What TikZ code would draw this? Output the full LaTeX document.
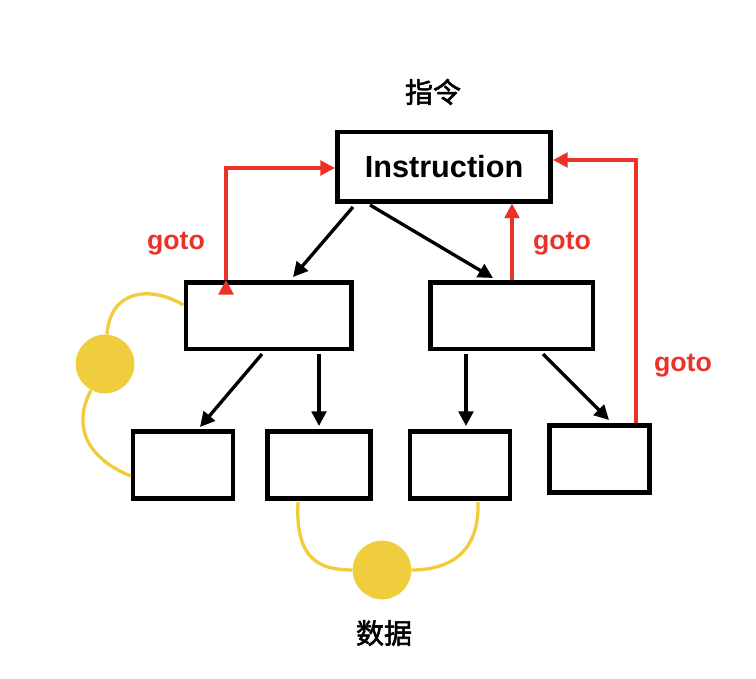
\documentclass[tikz,border=0pt]{standalone}
\usepackage{fontspec}
\setmainfont{Liberation Sans}
\newfontfamily\cjk[AutoFakeBold=2]{Noto Sans CJK SC}
\usetikzlibrary{arrows.meta}
\definecolor{gred}{RGB}{235,50,40}
\definecolor{gyel}{RGB}{240,205,60}
\tikzset{
 box/.style={draw,line width=3.5pt,inner sep=0pt},
 blk/.style={line width=2.5pt,-{Triangle[length=11pt,width=11pt]}},
 red/.style={draw=gred,line width=2.5pt,-{Triangle[length=11pt,width=11pt]}},
 lbl/.style={text=gred,font=\bfseries\fontsize{20}{22}\selectfont},
 yl/.style={draw=gyel,line width=2.5pt},
 dot/.style={circle,fill=gyel,minimum size=44pt,inner sep=0pt}
}
\begin{document}
\begin{tikzpicture}[x=0.75pt,y=-0.75pt]
\useasboundingbox (0,0) rectangle (756,678);
\node[font=\cjk\bfseries\fontsize{21}{24}\selectfont] (t1) at (433,92) {指令};
\node[font=\cjk\bfseries\fontsize{21}{24}\selectfont] (t2) at (384,633) {数据};
\node[box,minimum width=160pt,minimum height=52pt,font=\bfseries\fontsize{23}{26}\selectfont] (I) at (444,166.5) {Instruction};
\node[box,minimum width=124pt,minimum height=50pt] (L) at (268.5,315.5) {};
\node[box,minimum width=122pt,minimum height=50pt] (R) at (511.5,315.5) {};
\node[box,minimum width=75pt,minimum height=50pt] (a) at (183,465) {};
\node[box,minimum width=77pt,minimum height=50pt] (b) at (319,465) {};
\node[box,minimum width=75pt,minimum height=50pt] (c) at (460,465) {};
\node[box,minimum width=75pt,minimum height=50pt] (d) at (599.5,459) {};
\draw[blk] (353,207) -- (293,277);
\draw[blk] (370,205) -- (493,278);
\draw[blk] (262,354) -- (200,427);
\draw[blk] (319,354) -- (319,426);
\draw[blk] (466,354) -- (466,426);
\draw[blk] (543,354) -- (609,420);
\coordinate (r1) at (226,168);
\draw[red] (L.north -| 226,0) -- (r1) -- (I.west |- r1);
\draw[red] (L.north -| 226,0) ++(0,0);
\draw[red] (R.north -| 512,0) -- (I.south -| 512,0);
\coordinate (r3) at (636,160);
\draw[red] (d.north -| 636,0) -- (r3) -- (I.east |- r3);
\node[lbl] (g1) at (176,244) {goto};
\node[lbl] (g2) at (562,244) {goto};
\node[lbl] (g3) at (683,366) {goto};
\node[dot] (y1) at (105,364) {};
\node[dot] (y2) at (382,570) {};
\draw[yl] (L.west |- 0,305) .. controls (150,285) and (110,290) .. (y1);
\draw[yl] (y1) .. controls (75,420) and (80,455) .. (a.west |- 0,476);
\draw[yl] (298,502) .. controls (295,560) and (320,570) .. (y2);
\draw[yl] (y2) .. controls (440,570) and (480,560) .. (478,502);
\end{tikzpicture}
\end{document}
